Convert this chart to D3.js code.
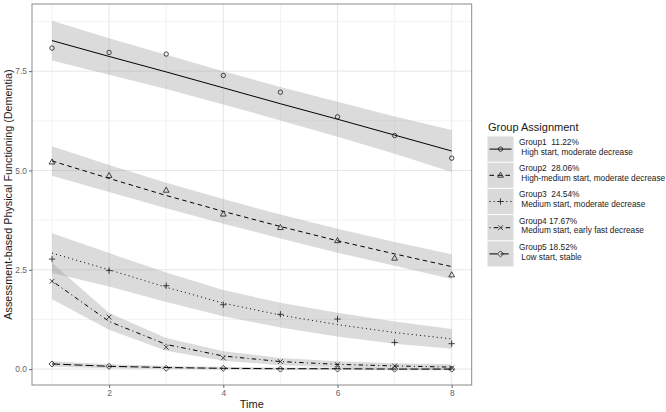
<!DOCTYPE html>
<html><head><meta charset="utf-8">
<script src="https://cdn.jsdelivr.net/npm/d3@7"></script>
<style>body{margin:0;background:#fff;font-family:"Liberation Sans",Arial,sans-serif;}</style>
</head><body><svg id="c" width="666" height="412"></svg>
<script>
const times = [1,2,3,4,5,6,7,8];
const groupNames = ["Group1  11.22%","Group2  28.06%","Group3  24.54%","Group4 17.67%","Group5 18.52%"];
const groupDescs = ["High start, moderate decrease","High-medium start, moderate decrease","Medium start, moderate decrease","Medium start, early fast decrease","Low start, stable"];
const obs1 = [8.08,7.97,7.93,7.39,6.97,6.35,5.88,5.31];
const obs2 = [5.21,4.87,4.50,3.90,3.56,3.23,2.79,2.37];
const obs3 = [2.77,2.48,2.10,1.62,1.38,1.26,0.67,0.64];
const obs4 = [2.21,1.31,0.55,0.28,0.19,0.11,0.08,0.03];
const obs5 = [0.13,0.07,0.02,0.02,0.00,0.00,0.00,0.00];
const fit1 = [8.27,7.87,7.48,7.08,6.68,6.29,5.89,5.49];
const fit2 = [5.24,4.80,4.37,3.97,3.59,3.23,2.90,2.58];
const fit3 = [2.92,2.50,2.06,1.66,1.36,1.12,0.92,0.76];
const fit4 = [2.22,1.20,0.62,0.33,0.19,0.12,0.08,0.05];
const fit5 = [0.13,0.07,0.04,0.02,0.01,0.01,0.00,0.00];
const half1 = [0.50,0.46,0.43,0.42,0.42,0.44,0.47,0.53];
const half2 = [0.37,0.34,0.32,0.31,0.30,0.30,0.30,0.31];
const half3 = [0.50,0.42,0.37,0.33,0.31,0.30,0.28,0.25];
const half4 = [0.46,0.21,0.16,0.12,0.09,0.08,0.07,0.07];
const half5 = [0.07,0.05,0.04,0.03,0.03,0.03,0.03,0.03];
const xTicks = [2,4,6,8];
const yTicks = [0,2.5,5,7.5];

const obs = [obs1,obs2,obs3,obs4,obs5];
const fits = [fit1,fit2,fit3,fit4,fit5];
const halves = [half1,half2,half3,half4,half5];
const dashes = [null,"4.5,3.5","1,3.2","1,3.2,4.5,3.2","8,3.2"];
const shapes = ["circle","triangle","plus","cross","diamond"];

const svg = d3.select("#c");
const P = {l:32, r:471.7, t:4, b:385};
const x = d3.scaleLinear().domain([0.65,8.35]).range([P.l,P.r]);
const y = d3.scaleLinear().domain([-0.4,9.19]).range([P.b,P.t]);

// grid
const g = svg.append("g");
const xMinor=[1,3,5,7], yMinor=[1.25,3.75,6.25,8.75];
xMinor.forEach(v=>g.append("line").attr("x1",x(v)).attr("x2",x(v)).attr("y1",P.t).attr("y2",P.b).attr("stroke","#EBEBEB").attr("stroke-width",0.6));
yMinor.forEach(v=>g.append("line").attr("y1",y(v)).attr("y2",y(v)).attr("x1",P.l).attr("x2",P.r).attr("stroke","#EBEBEB").attr("stroke-width",0.6));
xTicks.forEach(v=>g.append("line").attr("x1",x(v)).attr("x2",x(v)).attr("y1",P.t).attr("y2",P.b).attr("stroke","#E6E6E6").attr("stroke-width",1));
yTicks.forEach(v=>g.append("line").attr("y1",y(v)).attr("y2",y(v)).attr("x1",P.l).attr("x2",P.r).attr("stroke","#E6E6E6").attr("stroke-width",1));

// ribbons
const area = d3.area().x((d,i)=>x(times[i])).y0(d=>y(d[0]-d[1])).y1(d=>y(d[0]+d[1]));
fits.forEach((f,k)=>{
  svg.append("path").datum(f.map((v,i)=>[v,halves[k][i]])).attr("d",area)
    .attr("fill","#999999").attr("fill-opacity",0.35);
});
// lines
const line = d3.line().x((d,i)=>x(times[i])).y(d=>y(d));
fits.forEach((f,k)=>{
  const p = svg.append("path").datum(f).attr("d",line).attr("fill","none").attr("stroke","#000").attr("stroke-width",1);
  if(dashes[k]) p.attr("stroke-dasharray",dashes[k]);
});
function shapePath(s){
  if(s==="circle"){const p=d3.path();p.arc(0,0,2.2,0,2*Math.PI);return p.toString();}
  if(s==="triangle") return "M0,-3.2L2.9,1.9L-2.9,1.9Z";
  if(s==="plus") return "M-3.2,0H3.2M0,-3.2V3.2";
  if(s==="cross") return "M-2.4,-2.4L2.4,2.4M-2.4,2.4L2.4,-2.4";
  if(s==="diamond") return "M0,-3L3,0L0,3L-3,0Z";
}
obs.forEach((o,k)=>{
  o.forEach((v,i)=>{
    svg.append("path").attr("d",shapePath(shapes[k])).attr("transform",`translate(${x(times[i])},${y(v)})`)
      .attr("fill","none").attr("stroke","#1a1a1a").attr("stroke-width",0.8);
  });
});

// panel border
svg.append("rect").attr("x",P.l).attr("y",P.t).attr("width",P.r-P.l).attr("height",P.b-P.t)
  .attr("fill","none").attr("stroke","#8a8a8a").attr("stroke-width",1);

// axes
const xa = svg.append("g").attr("transform",`translate(0,${P.b})`).call(d3.axisBottom(x).tickValues(xTicks).tickFormat(d3.format("d")).tickSize(3).tickPadding(2));
const ya = svg.append("g").attr("transform",`translate(${P.l},0)`).call(d3.axisLeft(y).tickValues(yTicks).tickFormat(d3.format(".1f")).tickSize(3).tickPadding(2));
[xa,ya].forEach(a=>{
  a.select(".domain").remove();
  a.selectAll(".tick line").attr("stroke","#666");
  a.selectAll(".tick text").attr("fill","#666").style("font-size","8.4px").style("font-family","Liberation Sans, Arial, sans-serif");
});

svg.append("text").attr("x",(P.l+P.r)/2).attr("y",408).attr("text-anchor","middle")
  .style("font-size","11px").attr("fill","#1a1a1a").text("Time");
svg.append("text").attr("transform",`translate(8.5,${(P.t+P.b)/2}) rotate(-90)`).attr("text-anchor","middle")
  .attr("dy","0.35em").style("font-size","10.8px").attr("fill","#1a1a1a").text("Assessment-based Physical Functioning (Dementia)");

// legend
const L = svg.append("g");
L.append("text").attr("x",488).attr("y",131).style("font-size","11px").attr("fill","#1a1a1a").text("Group Assignment");
const keyY0 = 136.5, keyH = 25.2, keyGap = 1;
groupNames.forEach((nm,k)=>{
  const ky = keyY0 + k*(keyH+keyGap);
  L.append("rect").attr("x",487.5).attr("y",ky).attr("width",26).attr("height",keyH).attr("fill","#DADADA");
  const cy = ky+keyH/2;
  const ln = L.append("line").attr("x1",489.5).attr("x2",511.5).attr("y1",cy).attr("y2",cy).attr("stroke","#000").attr("stroke-width",1);
  if(dashes[k]) ln.attr("stroke-dasharray",dashes[k]);
  L.append("path").attr("d",shapePath(shapes[k])).attr("transform",`translate(500.5,${cy})`)
    .attr("fill","none").attr("stroke","#1a1a1a").attr("stroke-width",0.8);
  L.append("text").attr("x",519).attr("y",ky+8.5).style("font-size","8.3px").attr("fill","#1a1a1a").style("white-space","pre").text(nm);
  L.append("text").attr("x",519).attr("y",ky+18.3).style("font-size","8.3px").attr("fill","#1a1a1a").style("white-space","pre").text(" "+groupDescs[k]);
});
</script></body></html>
